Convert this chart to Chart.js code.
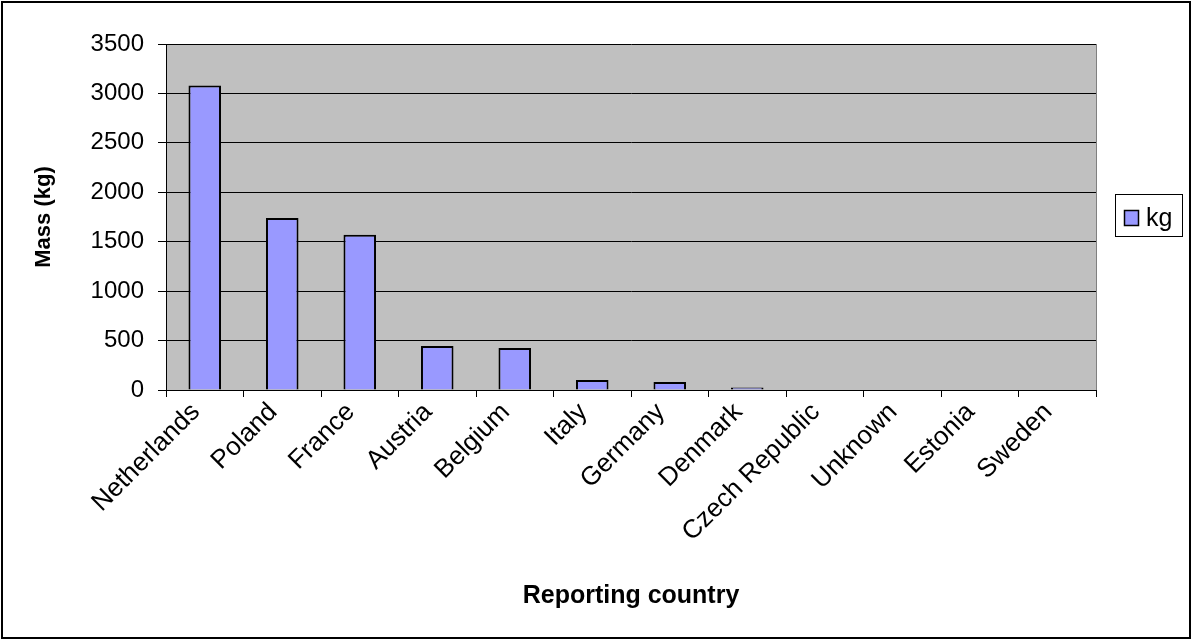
<!DOCTYPE html>
<html>
<head>
<meta charset="utf-8">
<script src="https://cdn.jsdelivr.net/npm/chart.js@4/dist/chart.umd.min.js"></script>
<style>
    html, body { margin: 0; padding: 0; background: #fff; }
    #wrap { width: 1192px; height: 640px; position: relative; }
</style>
</head>
<body>
<div id="wrap"><canvas id="massChart" width="1192" height="640"></canvas></div>
<script>
    // data
    const countries = ["Netherlands", "Poland", "France", "Austria", "Belgium", "Italy", "Germany", "Denmark", "Czech Republic", "Unknown", "Estonia", "Sweden"];
    const massKg = [3080, 1740, 1570, 445, 425, 100, 80, 25, 0, 0, 0, 0];
    const yTicks = [0, 500, 1000, 1500, 2000, 2500, 3000, 3500];

    const fontFamily = '"Liberation Sans", Arial, sans-serif';

    // grey plot area + outer frame + boxed legend (Excel style)
    const excelLook = {
        id: 'excelLook',
        beforeDraw(chart) {
            const { ctx, chartArea: a } = chart;
            ctx.save();
            ctx.fillStyle = '#C0C0C0';
            ctx.fillRect(a.left, a.top, a.right - a.left, a.bottom - a.top);
            ctx.restore();
        },
        afterDraw(chart) {
            const { ctx, chartArea: a } = chart;
            const ds = chart.data.datasets[0];
            ctx.save();
            // right edge of plot area
            ctx.strokeStyle = '#808080';
            ctx.lineWidth = 1;
            ctx.beginPath();
            ctx.moveTo(a.right + 0.5, a.top);
            ctx.lineTo(a.right + 0.5, a.bottom);
            ctx.stroke();

            // legend box
            ctx.fillStyle = '#fff';
            ctx.fillRect(1115.5, 194.5, 67, 42);
            ctx.strokeStyle = '#000';
            ctx.strokeRect(1115.5, 194.5, 67, 42);
            ctx.fillStyle = ds.backgroundColor;
            ctx.fillRect(1124.5, 210.5, 14, 15);
            ctx.lineWidth = 1.5;
            ctx.strokeRect(1124.5, 210.5, 14, 15);
            ctx.fillStyle = '#000';
            ctx.font = '25px ' + fontFamily;
            ctx.textBaseline = 'middle';
            ctx.fillText(ds.label, 1146, 219);

            // outer chart frame
            ctx.lineWidth = 2;
            ctx.strokeRect(2, 2, 1188, 636);
            ctx.restore();
        }
    };

    new Chart(document.getElementById('massChart'), {
        type: 'bar',
        data: {
            labels: countries,
            datasets: [{
                label: 'kg',
                data: massKg,
                backgroundColor: '#9999FF',
                borderColor: '#000000',
                borderWidth: 2,
                barPercentage: 0.42,
                categoryPercentage: 1.0
            }]
        },
        options: {
            responsive: false,
            animation: false,
            devicePixelRatio: 1,
            layout: { padding: { left: 10, top: 44, right: 96, bottom: 8 } },
            plugins: {
                legend: { display: false },
                tooltip: { enabled: false }
            },
            scales: {
                x: {
                    offset: true,
                    grid: { offset: true, drawOnChartArea: false, drawTicks: true, tickLength: 7, color: '#000' },
                    border: { display: true, color: '#000', width: 1 },
                    ticks: {
                        autoSkip: false,
                        minRotation: 45,
                        maxRotation: 45,
                        padding: 0,
                        labelOffset: -9,
                        color: '#000',
                        font: { family: fontFamily, size: 26 }
                    },
                    title: {
                        display: true,
                        text: 'Reporting country',
                        color: '#000',
                        font: { family: fontFamily, size: 25, weight: 'bold' },
                        padding: { top: 0, bottom: 21 }
                    },
                    afterFit(scale) { scale.height = 242; }
                },
                y: {
                    min: 0,
                    max: 3500,
                    afterBuildTicks(scale) { scale.ticks = yTicks.map(v => ({ value: v })); },
                    grid: { color: '#000', lineWidth: 1, drawTicks: true, tickLength: 8 },
                    border: { display: true, color: '#000', width: 1 },
                    ticks: {
                        padding: 14,
                        color: '#000',
                        font: { family: fontFamily, size: 24 },
                        callback: (value) => String(value)
                    },
                    title: {
                        display: true,
                        text: 'Mass (kg)',
                        color: '#000',
                        font: { family: fontFamily, size: 22, weight: 'bold' },
                        padding: { top: 21, bottom: 0 }
                    },
                    afterFit(scale) { scale.width = 156; }
                }
            }
        },
        plugins: [excelLook]
    });
</script>
</body>
</html>
